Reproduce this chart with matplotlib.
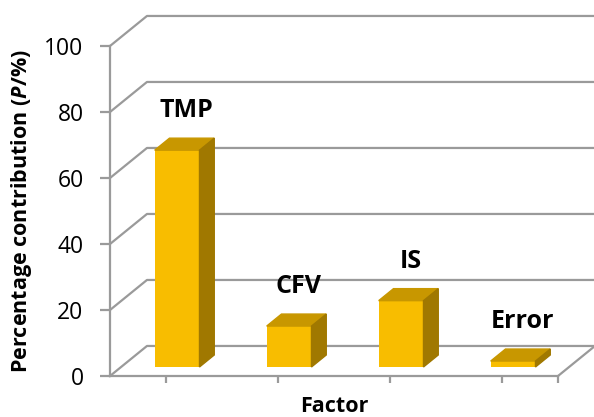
import matplotlib
matplotlib.use('Agg')
import matplotlib.pyplot as plt
from matplotlib.patches import Polygon
import numpy as np

factors = ['TMP', 'CFV', 'IS', 'Error']
contribution = [65.7, 12.4, 20.1, 1.8]
yticks = [0, 20, 40, 60, 80, 100]

plt.rcParams['font.family'] = 'Open Sans'
plt.rcParams['mathtext.fontset'] = 'custom'
plt.rcParams['mathtext.it'] = 'Open Sans:italic:bold'

c_front = '#F8BD00'
c_top = '#C89700'
c_side = '#A07800'
c_grid = '#9A9A9A'

# floor depth in data units (categories, percent) and where the bars sit in it
ddx, ddy = 0.33, 9.1
d0, d1 = 0.3, 0.7
w = 0.4

fig = plt.figure(figsize=(5.94, 4.17), dpi=100)
ax = fig.add_axes([110/594, 41/417, 448/594, 330/417])
ax.set_xlim(-0.5, 3.5)
ax.set_ylim(0, 100)

# left wall + back wall gridlines
for v in yticks:
    ax.plot([-0.5, -0.5 + ddx, 3.5 + ddx], [v, v + ddy, v + ddy],
            color=c_grid, lw=1.6, clip_on=False, zorder=1)
# right edge of the floor
ax.plot([3.5, 3.5 + ddx], [0, ddy], color=c_grid, lw=1.6, clip_on=False, zorder=1)

x = np.arange(len(factors))
x0 = x - w / 2 + d0 * ddx
y0 = d0 * ddy
sdx, sdy = (d1 - d0) * ddx, (d1 - d0) * ddy

ax.bar(x0, contribution, width=w, bottom=y0, align='edge', color=c_front,
       zorder=3, clip_on=False)
for xi, xc, v, name in zip(x0, x, contribution, factors):
    yt = y0 + v
    ax.add_patch(Polygon([(xi, yt), (xi + w, yt), (xi + w + sdx, yt + sdy), (xi + sdx, yt + sdy)],
                         closed=True, color=c_top, zorder=3, clip_on=False))
    ax.add_patch(Polygon([(xi + w, y0), (xi + w + sdx, y0 + sdy), (xi + w + sdx, yt + sdy), (xi + w, yt)],
                         closed=True, color=c_side, zorder=3, clip_on=False))
    ax.annotate(name, (xc + 0.55 * ddx, v + 0.5 * ddy), xytext=(0, 24),
                textcoords='offset points', ha='center', va='center',
                fontsize=18, fontweight='bold', zorder=4)

for s in ['top', 'right']:
    ax.spines[s].set_visible(False)
for s in ['left', 'bottom']:
    ax.spines[s].set_color(c_grid)
    ax.spines[s].set_linewidth(1.6)

ax.set_yticks(yticks)
ax.tick_params(axis='y', direction='out', length=7, width=1.6, color=c_grid,
               pad=12, labelsize=16.5)
ax.set_xticks([0, 1, 2, 3, 3.5])
ax.set_xticklabels([])
ax.tick_params(axis='x', direction='out', length=5, width=1.6, color=c_grid)

ax.set_ylabel(r'Percentage contribution ($\mathit{P}$/%)', fontsize=15.5, fontweight='bold')
ax.yaxis.label.set_va('center')
ax.yaxis.set_label_coords((22 - 110) / 448, (376 - 211) / 330)
ax.set_xlabel('Factor', fontsize=15.5, fontweight='bold')
ax.xaxis.label.set_va('center')
ax.xaxis.set_label_coords((334 - 110) / 448, (376 - 406) / 330)

fig.savefig('out.png', dpi=100)
